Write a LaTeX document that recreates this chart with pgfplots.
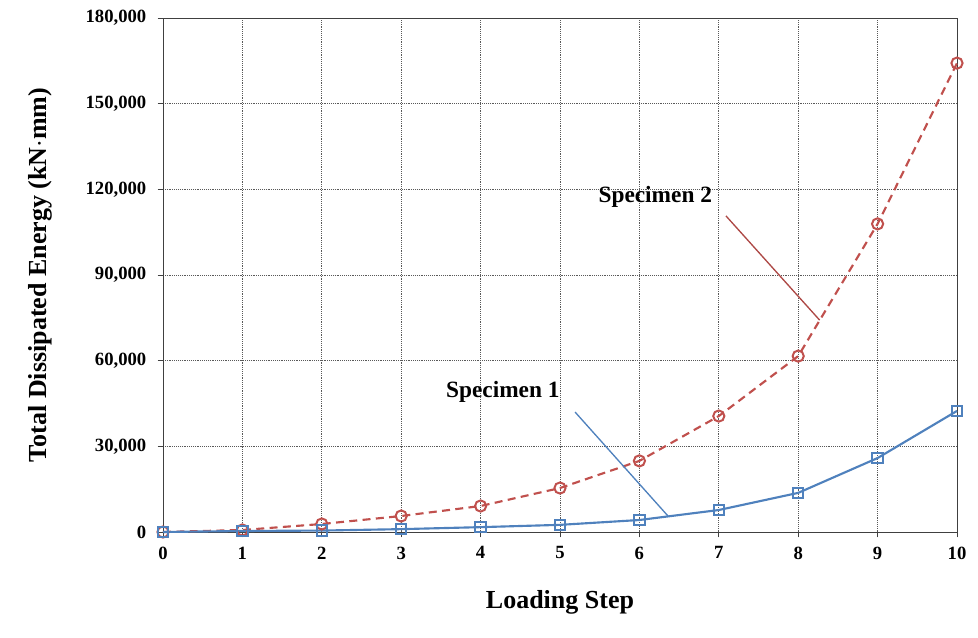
\documentclass[border=0pt]{standalone}
\usepackage{fontspec}
\setmainfont{Liberation Serif}
\usepackage{pgfplots}
\pgfplotsset{compat=1.18}
\definecolor{spred}{RGB}{192,80,77}
\definecolor{spblue}{RGB}{79,129,189}
\begin{document}
\begin{tikzpicture}
\path[use as bounding box] (-122.25pt,-79.5pt) rectangle (611.25pt,399pt);
\begin{axis}[
  at={(0,0)}, anchor=south west,
  scale only axis, width=595.5pt, height=385.5pt,
  xmin=0, xmax=10, ymin=0, ymax=180000,
  xtick={0,...,10}, ytick={0,30000,...,180000},
  scaled y ticks=false,
  /pgf/number format/.cd, fixed, 1000 sep={,}, assume math mode=true, /pgfplots/.cd,
  tick label style={font=\fontsize{14}{16}\selectfont\bfseries},
  yticklabel style={xshift=-5pt},
  xticklabel style={yshift=-3.5pt},
  xmajorgrids, ymajorgrids,
  major grid style={black!65, densely dotted, line width=0.6pt},
  axis line style={black!75, line width=0.7pt},
  tick align=outside, tick pos=left,
  major tick length=4pt,
  every tick/.style={black!75, line width=0.7pt},
  xlabel={Loading Step},
  ylabel={Total Dissipated Energy (kN$\cdot$mm)},
  label style={font=\fontsize{19.5}{22}\selectfont\bfseries},
  x label style={at={(axis description cs:0.5,0)}, anchor=center, yshift=-52.5pt},
  y label style={at={(axis description cs:0,0.5)}, anchor=center, rotate=0, yshift=92pt},
  clip=false,
]
\addplot[spred, line width=1.6pt, dash pattern=on 6pt off 4pt,
  mark=o, mark size=4.2pt, mark options={solid, line width=1.5pt}]
  coordinates {(0,0) (1,700) (2,2800) (3,5600) (4,9100) (5,15400)
    (6,24900) (7,40600) (8,61600) (9,107900) (10,164200)};
\addplot[spblue, line width=1.6pt,
  mark=square, mark size=3.9pt, mark options={solid, line width=1.5pt}]
  coordinates {(0,0) (1,350) (2,500) (3,1000) (4,1700) (5,2500)
    (6,4200) (7,7700) (8,13700) (9,25900) (10,42400)};
\draw[spred!90!black, line width=1pt] (axis cs:7.09,110700) -- (axis cs:8.27,74200);
\draw[spblue, line width=1pt] (axis cs:5.19,42000) -- (axis cs:6.36,5600);
\node[font=\fontsize{17.5}{20}\selectfont\bfseries] at (axis cs:6.20,117300) {Specimen 2};
\node[font=\fontsize{17.5}{20}\selectfont\bfseries] at (axis cs:4.28,49000) {Specimen 1};
\end{axis}
\end{tikzpicture}
\end{document}
